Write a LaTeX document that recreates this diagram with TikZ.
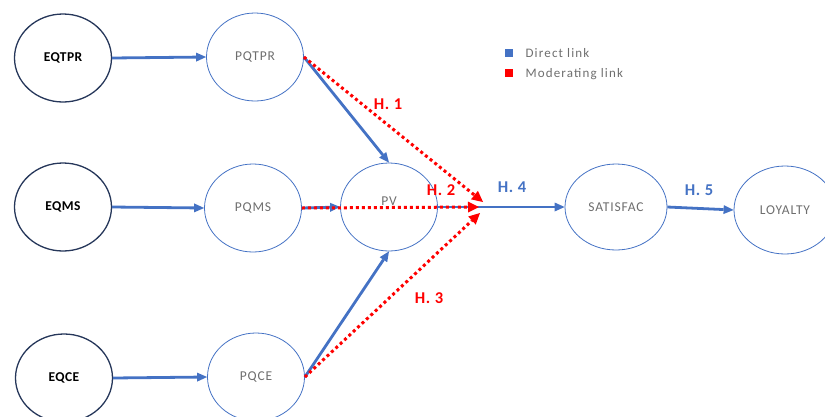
\documentclass[tikz,border=0pt]{standalone}
\usepackage{fontspec}
\setmainfont{Carlito}
\usetikzlibrary{arrows.meta,shapes.geometric}

\definecolor{linkblue}{RGB}{68,114,196}
\definecolor{navy}{RGB}{38,55,90}
\definecolor{labelgray}{RGB}{110,110,110}

\tikzset{
	exo/.style={ellipse, draw=navy, line width=1.3pt, minimum width=97pt, minimum height=88pt, font=\fontsize{13.5}{15}\selectfont\bfseries\addfontfeatures{LetterSpace=3}, text=black},
	endo/.style={ellipse, draw=linkblue, line width=0.8pt, minimum width=97pt, minimum height=88pt, font=\fontsize{13.5}{15}\selectfont\addfontfeatures{LetterSpace=6}, text=labelgray},
	direct/.style={draw=linkblue, line width=2.8pt, -{Triangle[length=10pt,width=9pt,line width=0pt]}},
	moderate/.style={draw=red, line width=3pt, dash pattern=on 3pt off 3pt, -{Triangle[length=11pt,width=11pt,line width=0pt]}},
	hypo/.style={font=\fontsize{16.5}{18}\selectfont\bfseries\addfontfeatures{LetterSpace=4}},
	legend/.style={anchor=west, text=labelgray, font=\fontsize{13}{15}\selectfont\addfontfeatures{LetterSpace=9}}
}

\begin{document}
\begin{tikzpicture}[x=1pt,y=-1pt]
	\useasboundingbox (0,0) rectangle (825,416);

	\node[exo] (EQTPR) at (63,58) {EQTPR};
	\node[exo] (EQMS) at (63,207) {EQMS};
	\node[exo] (EQCE) at (64,378) {EQCE};

	\node[endo] (PQTPR) at (255,57) {PQTPR};
	\node[endo] (PQMS) at (253,208) {PQMS};
	\node[endo] (PQCE) at (256,377) {PQCE};
	\node[endo] (PV) at (389,207) {\raisebox{11pt}{PV}};
	\node[endo, minimum width=102pt, minimum height=86pt] (SATISFAC) at (616,207) {SATISFAC};
	\node[endo, minimum width=102pt] (LOYALTY) at (785,210) {LOYALTY};

	\coordinate (meet1) at (483,202);
	\coordinate (meet2) at (479,207);
	\coordinate (meet3) at (480,213);

	\draw[direct] (EQTPR.east) -- (PQTPR.west);
	\draw[direct] (EQMS.east) -- (PQMS.west);
	\draw[direct] (EQCE.east) -- (PQCE.west);
	\draw[direct] (PQTPR.east) -- (PV.north);
	\draw[direct] (PQMS.east) -- (PV.west);
	\draw[direct] (PQCE.east) -- (PV.south);
	\draw[direct] (PV.east) -- (SATISFAC.west);
	\draw[direct] (SATISFAC.east) -- (LOYALTY.west);

	\draw[moderate] (PQTPR.east) -- (meet1);
	\draw[moderate] (PQMS.east) -- (meet2);
	\draw[moderate] (PQCE.east) -- (meet3);

	\node[hypo, text=red] (h1) at (388,104) {H. 1};
	\node[hypo, text=red] (h2) at (441,190) {H. 2};
	\node[hypo, text=red] (h3) at (429,298) {H. 3};
	\node[hypo, text=linkblue] (h4) at (512,187) {H. 4};
	\node[hypo, text=linkblue] (h5) at (699,190) {H. 5};

	% legend
	\fill[linkblue] (505,49) rectangle (513,57);
	\fill[red] (505,69) rectangle (513,77);
	\node[legend] (direct) at (522,53) {Direct link};
	\node[legend] (moder) at (522,74) {Moderating link};
\end{tikzpicture}
\end{document}
